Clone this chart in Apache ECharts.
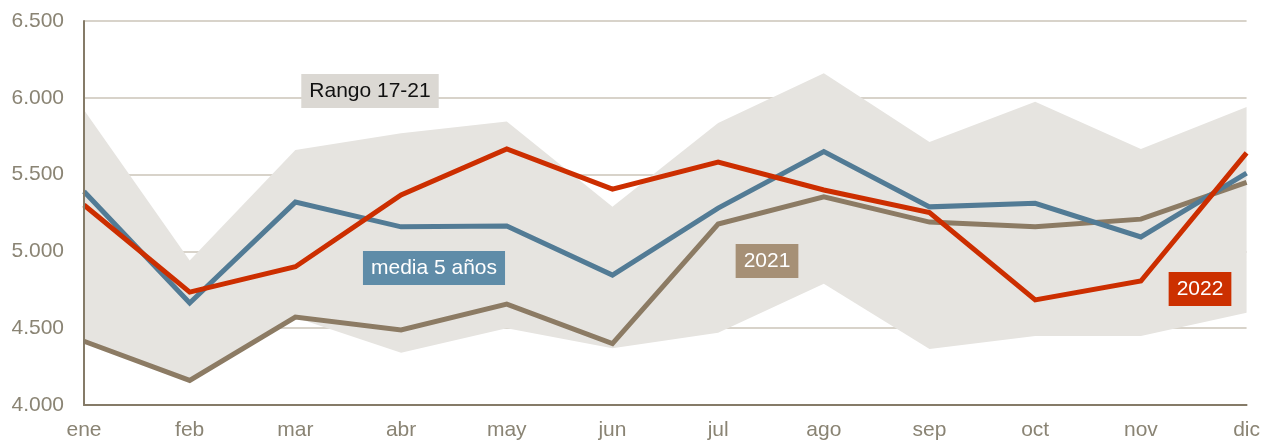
<!DOCTYPE html>
<html>
<head>
<meta charset="utf-8">
<style>
  html, body { margin: 0; padding: 0; background: #ffffff; }
  #chart { width: 1263px; height: 441px; }
</style>
<script src="https://cdn.jsdelivr.net/npm/echarts@6/dist/echarts.min.js"></script>
</head>
<body>
<div id="chart"></div>
<script>
// Meses
const months = ['ene', 'feb', 'mar', 'abr', 'may', 'jun', 'jul', 'ago', 'sep', 'oct', 'nov', 'dic'];

// Rango 2017-2021: mínimo y máximo mensual
const rangeMin = [4410, 4160, 4570, 4340, 4500, 4370, 4470, 4790, 4365, 4450, 4450, 4600];
const rangeMax = [5920, 4940, 5660, 5770, 5845, 5290, 5836, 6160, 5712, 5975, 5667, 5940];

// Media de 5 años, 2021 y 2022
const media5 = [5390, 4664, 5321, 5160, 5166, 4846, 5282, 5650, 5290, 5313, 5094, 5510];
const y2021 = [4415, 4160, 4573, 4488, 4657, 4400, 5178, 5355, 5191, 5160, 5210, 5450];
const y2022 = [5302, 4735, 4900, 5367, 5667, 5405, 5582, 5400, 5253, 4684, 4807, 5641];

// Eje vertical
const yMin = 4000, yMax = 6500, yStep = 500;

const rangeSpan = rangeMax.map((v, i) => v - rangeMin[i]);

const FONT = '"Liberation Sans", Arial, sans-serif';
const TICK = '#8a8474';
const AXIS = '#857b68';
const GRIDLINE = '#cbc5b8';
const BAND = '#e6e4e0';

const fmt = v => {
  const s = String(Math.round(v));
  return s.replace(/\B(?=(\d{3})+(?!\d))/g, '.');
};

const lineSeries = (name, data, color) => ({
  name, type: 'line', data,
  symbol: 'none', smooth: false,
  lineStyle: { color, width: 5, join: 'miter' },
  z: 5
});

const tag = (x, y, text, bg, fg) => ({
  type: 'text', x, y, z: 100,
  style: {
    text, fill: fg, font: '21px ' + FONT,
    align: 'center', verticalAlign: 'middle',
    backgroundColor: bg, padding: [7, 8, 6, 8]
  }
});

const chart = echarts.init(document.getElementById('chart'), null, { renderer: 'canvas' });
chart.setOption({
  animation: false,
  backgroundColor: '#ffffff',
  grid: { left: 84, right: 16, top: 21, bottom: 36, containLabel: false },
  xAxis: {
    type: 'category', data: months, boundaryGap: false,
    axisLine: { show: true, lineStyle: { color: AXIS, width: 2 } },
    axisTick: { show: false },
    axisLabel: { color: TICK, fontFamily: FONT, fontSize: 21, margin: 15 },
    splitLine: { show: false }
  },
  yAxis: [
    {
      type: 'value', min: yMin, max: yMax, interval: yStep,
      axisLine: { show: false },
      axisTick: { show: false },
      axisLabel: { color: TICK, fontFamily: FONT, fontSize: 21, margin: 20, formatter: fmt },
      splitLine: { show: true, lineStyle: { color: GRIDLINE, width: 1.5 } }
    },
    {
      // línea del eje izquierdo, por encima de la banda
      type: 'value', min: yMin, max: yMax, interval: yStep, position: 'left', z: 10,
      axisLine: { show: true, lineStyle: { color: AXIS, width: 2 } },
      axisTick: { show: false },
      axisLabel: { show: false },
      splitLine: { show: false }
    }
  ],
  series: [
    {
      name: 'minimo', type: 'line', data: rangeMin, stack: 'rango',
      symbol: 'none', lineStyle: { opacity: 0 }, z: 2
    },
    {
      name: 'Rango 17-21', type: 'line', data: rangeSpan, stack: 'rango',
      symbol: 'none', lineStyle: { opacity: 0 },
      areaStyle: { color: BAND, opacity: 1 }, z: 2
    },
    lineSeries('2021', y2021, '#8c7b64'),
    lineSeries('media 5 años', media5, '#527b95'),
    lineSeries('2022', y2022, '#cc2e00')
  ],
  graphic: [
    tag(370, 91, 'Rango 17-21', '#dbd8d3', '#111111'),
    tag(434, 268, 'media 5 años', '#5f8ca8', '#ffffff'),
    tag(767, 261, '2021', '#a69076', '#ffffff'),
    tag(1200, 289, '2022', '#cc3000', '#ffffff')
  ]
});
</script>
</body>
</html>
